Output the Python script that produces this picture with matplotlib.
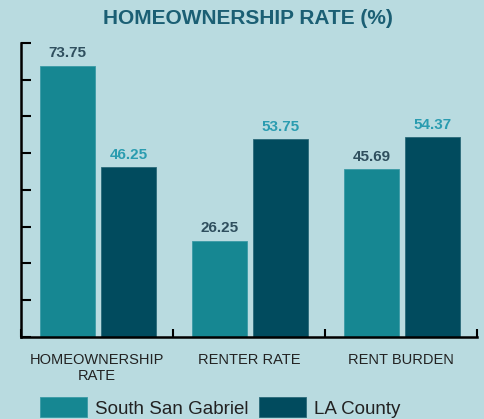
import numpy as np
import matplotlib.pyplot as plt

plt.rcParams['font.family'] = ['Liberation Sans', 'DejaVu Sans']

# Data
categories = ["HOMEOWNERSHIP\nRATE", "RENTER RATE", "RENT BURDEN"]
south_san_gabriel = [73.75, 26.25, 45.69]
la_county = [46.25, 53.75, 54.37]
series_names = ["South San Gabriel", "LA County"]

bg = "#b9dbe0"
teal = "#168792"
dark = "#014b5e"

fig = plt.figure(figsize=(4.84, 4.19), dpi=100, facecolor=bg)
ax = fig.add_axes([0.0434, 0.1957, 0.9421, 0.7017], facecolor=bg)

x = np.arange(len(categories))
w = 0.362
b1 = ax.bar(x - 0.194, south_san_gabriel, w, color=teal, edgecolor="#3a9aa5", linewidth=0.6)
b2 = ax.bar(x + 0.207, la_county, w, color=dark, edgecolor="#2a6a7a", linewidth=0.6)

for rect, v in zip(b1, south_san_gabriel):
    ax.text(rect.get_x() + rect.get_width() / 2, v + 1.5, f"{v:.2f}", ha="center", va="bottom",
            fontsize=11, fontweight="bold", color="#2f4f5e")
for rect, v in zip(b2, la_county):
    ax.text(rect.get_x() + rect.get_width() / 2, v + 1.5, f"{v:.2f}", ha="center", va="bottom",
            fontsize=11, fontweight="bold", color="#2a9cb0")

ax.set_xlim(-0.5, 2.5)
ax.set_ylim(0, 80)
ax.set_yticks(np.arange(0, 81, 10))
ax.set_yticklabels([])
ax.set_xticks([-0.5, 0.5, 1.5, 2.5])
ax.set_xticklabels([])
ax.tick_params(axis="y", direction="in", length=7, width=1.5, color="black")
ax.tick_params(axis="x", direction="in", length=6, width=1.5, color="black")
for s in ["top", "right"]:
    ax.spines[s].set_visible(False)
for s in ["left", "bottom"]:
    ax.spines[s].set_linewidth(1.8)

for xi, lab in zip(x, categories):
    ax.text(xi, -4.3, lab, ha="center", va="top", fontsize=10.5, color="#222222",
            linespacing=1.2)

fig.text(0.512, 0.955, "HOMEOWNERSHIP RATE (%)", ha="center", va="center",
         fontsize=15, fontweight="bold", color="#1b5f74")

fig.legend([b1, b2], series_names, loc="center", bbox_to_anchor=(0.455, 0.028), ncol=2,
           frameon=False, fontsize=13.5, handlelength=2.5, handleheight=1.3,
           handletextpad=0.4, columnspacing=0.6, labelcolor="#222222")

fig.savefig("out.png", dpi=100, facecolor=bg)
